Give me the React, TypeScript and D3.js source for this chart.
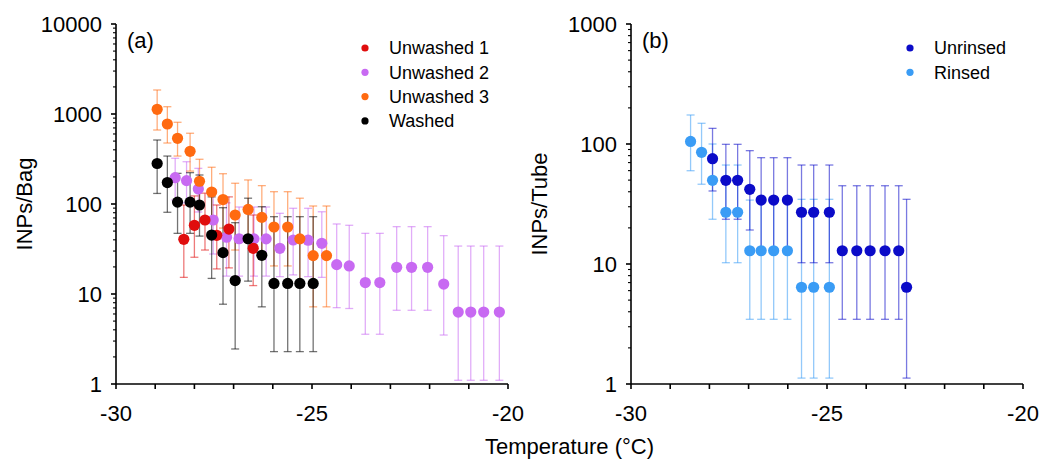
import React from "react";
import * as d3 from "d3";

// ---------- Panel (a) data ----------
const u1Temp = [-28.27, -28.0, -27.73, -27.43, -27.12, -26.5];
const u1Val = [40.5, 58, 66.4, 44.9, 52.7, 32.2];
const u1Hi = [97.5, 123, 132, 97.5, 120, 75.5];
const u1Lo = [15.3, 25.6, 30.8, 19, 19.5, 12.4];

const u2Temp = [-28.49, -28.2, -27.9, -27.52, -27.18, -26.86, -26.48, -26.17, -25.82, -25.48, -25.1, -24.75,
  -24.37, -24.05, -23.64, -23.27, -22.84, -22.46, -22.05, -21.64, -21.27, -20.95, -20.62, -20.22];
const u2Val = [196, 182, 147, 66.4, 42.7, 41.1, 41, 41, 32.2, 39.8, 39.6, 36.6,
  21.2, 20.5, 13.4, 13.4, 19.8, 19.8, 19.8, 12.9, 6.3, 6.3, 6.3, 6.3];
const u2Hi = [322, 295, 249, 143, 103, 92.6, 92.6, 92.6, 78.8, 89.6, 89.6, 82,
  60, 58, 47.2, 47.2, 56, 56, 56, 44.5, 34.1, 34.1, 34.1, 34.1];
const u2Lo = [111, 103, 81.5, 27.8, 15.8, 15.8, 15.8, 15.8, 15.6, 16.3, 15.6, 15.3,
  7.05, 6.9, 3.57, 3.57, 6.59, 6.59, 6.59, 3.5, 1.1, 1.1, 1.1, 1.1];

const u3Temp = [-28.95, -28.69, -28.43, -28.11, -27.87, -27.56, -27.27, -26.96, -26.63, -26.28, -25.97, -25.62, -25.31, -24.97, -24.63];
const u3Val = [1128, 774, 537, 385, 179, 136, 112, 75.5, 87, 71, 55.5, 55.5, 41, 26.7, 26.7];
const u3Hi = [1848, 1205, 809, 611, 314, 256, 217, 170, 185, 160, 137, 137, 116, 95, 95];
const u3Lo = [664, 476, 341, 232, 97.5, 68, 54, 30.8, 37.8, 27.8, 20.5, 20.5, 12.9, 7.2, 7.2];

const wTemp = [-28.95, -28.69, -28.43, -28.11, -27.87, -27.56, -27.27, -26.96, -26.63, -26.28, -25.97, -25.62, -25.31, -24.97];
const wVal = [282, 173, 105, 105, 97.5, 45.2, 28.8, 14.1, 41.1, 26.9, 13.1, 13.1, 13.1, 13.1];
const wHi = [514, 341, 219, 223, 210, 120, 91, 62, 116, 93.3, 72.3, 72.3, 72.3, 72.3];
const wLo = [131, 80.9, 47.2, 47.2, 44, 14.9, 7.7, 2.45, 13.9, 7.2, 2.29, 2.29, 2.29, 2.29];

// ---------- Panel (b) data ----------
const rTemp = [-28.48, -28.2, -27.92, -27.58, -27.28, -26.97, -26.68, -26.36, -26.01, -25.65, -25.34, -24.94];
const rVal = [105, 85.3, 49.8, 27, 27, 12.9, 12.9, 12.9, 12.9, 6.4, 6.4, 6.4];
const rHi = [174.5, 148.8, 100, 66.8, 66.8, 34.1, 34.1, 34.1, 34.1, 34.6, 34.6, 34.6];
const rLo = [59.9, 46.2, 23.6, 10.25, 10.25, 3.46, 3.46, 3.46, 3.46, 1.12, 1.12, 1.12];

const urTemp = [-27.92, -27.58, -27.28, -26.97, -26.68, -26.36, -26.01, -25.65, -25.34, -24.94, -24.61, -24.24, -23.9, -23.52, -23.17, -22.97];
const urVal = [75.4, 49.8, 49.8, 41.9, 34.1, 34.1, 34.1, 27, 27, 27, 12.9, 12.9, 12.9, 12.9, 12.9, 6.4];
const urHi = [135, 99.4, 99.4, 88, 76.9, 76.9, 76.9, 66.8, 66.8, 66.8, 44.9, 44.9, 44.9, 44.9, 44.9, 34.6];
const urLo = [40.6, 23.6, 23.6, 19.2, 13.6, 13.6, 13.6, 10.25, 10.25, 10.25, 3.46, 3.46, 3.46, 3.46, 3.46, 1.12];

const xTicksMajor = [-30, -25, -20];
const yTicksA = [1, 10, 100, 1000, 10000];
const yTicksB = [1, 10, 100, 1000];

const FONT = "'Liberation Sans', Arial, Helvetica, sans-serif";

type Series = { name: string; color: string; t: number[]; v: number[]; hi: number[]; lo: number[] };

const seriesA: Series[] = [
  { name: "Unwashed 2", color: "#c86af2", t: u2Temp, v: u2Val, hi: u2Hi, lo: u2Lo },
  { name: "Unwashed 1", color: "#e00d0d", t: u1Temp, v: u1Val, hi: u1Hi, lo: u1Lo },
  { name: "Unwashed 3", color: "#ff6a10", t: u3Temp, v: u3Val, hi: u3Hi, lo: u3Lo },
  { name: "Washed", color: "#000000", t: wTemp, v: wVal, hi: wHi, lo: wLo },
];
const legendA = ["Unwashed 1", "Unwashed 2", "Unwashed 3", "Washed"];

const seriesB: Series[] = [
  { name: "Rinsed", color: "#3a9cf5", t: rTemp, v: rVal, hi: rHi, lo: rLo },
  { name: "Unrinsed", color: "#0b0bc8", t: urTemp, v: urVal, hi: urHi, lo: urLo },
];
const legendB = ["Unrinsed", "Rinsed"];

function Panel(props: {
  x0: number; x1: number; yTop: number; yBot: number; yMax: number; yTicks: number[];
  series: Series[]; legend: string[]; legendX: number; legendY: number; label: string; yTitle: string;
}) {
  const { x0, x1, yTop, yBot, yMax, yTicks, series, legend, legendX, legendY, label, yTitle } = props;
  const x = d3.scaleLinear().domain([-30, -20]).range([x0, x1]);
  const y = d3.scaleLog().domain([1, yMax]).range([yBot, yTop]);
  const minor: number[] = [];
  for (let d = 1; d < yMax; d *= 10) for (let k = 2; k <= 9; k++) minor.push(d * k);
  const xt = d3.range(-30, -19, 1);
  const cap = 4;
  return (
    <g>
      {/* error bars */}
      {series.map((s) => (
        <g key={"e" + s.name} stroke={s.color} strokeOpacity={0.55} strokeWidth={1.3}>
          {s.t.map((t, i) => {
            const cx = x(t);
            const yh = y(s.hi[i]);
            const yl = y(s.lo[i]);
            return (
              <g key={i}>
                <line x1={cx} x2={cx} y1={yh} y2={yl} />
                <line x1={cx - cap} x2={cx + cap} y1={yh} y2={yh} />
                <line x1={cx - cap} x2={cx + cap} y1={yl} y2={yl} />
              </g>
            );
          })}
        </g>
      ))}
      {/* points */}
      {series.map((s) => (
        <g key={"p" + s.name} fill={s.color}>
          {s.t.map((t, i) => (
            <circle key={i} cx={x(t)} cy={y(s.v[i])} r={5.6} />
          ))}
        </g>
      ))}
      {/* axes */}
      <g stroke="#000" strokeWidth={1.6}>
        <line x1={x0} x2={x0} y1={yTop} y2={yBot} />
        <line x1={x0} x2={x1} y1={yBot} y2={yBot} />
        {xt.map((t) => (
          <line key={t} x1={x(t)} x2={x(t)} y1={yBot} y2={yBot + 5} />
        ))}
        {yTicks.map((t) => (
          <line key={t} x1={x0 - 5} x2={x0} y1={y(t)} y2={y(t)} />
        ))}
        {minor.map((t) => (
          <line key={t} x1={x0 - 3} x2={x0} y1={y(t)} y2={y(t)} strokeWidth={1.1} />
        ))}
      </g>
      <g fontFamily={FONT} fontSize={22} fill="#000">
        {xTicksMajor.map((t) => (
          <text key={t} x={x(t)} y={yBot + 37} textAnchor="middle">{t}</text>
        ))}
        {yTicks.map((t) => (
          <text key={t} x={x0 - 14} y={y(t)} dy="0.36em" textAnchor="end">{t}</text>
        ))}
        <text x={x0 + 11} y={48}>{label}</text>
        <text transform={`translate(${x0 - 84},${(yTop + yBot) / 2}) rotate(-90)`} textAnchor="middle">{yTitle}</text>
      </g>
      <g fontFamily={FONT} fontSize={18} fill="#000">
        {legend.map((name, i) => {
          const s = series.find((q) => q.name === name)!;
          const ly = legendY + i * 24.3;
          return (
            <g key={name}>
              <circle cx={legendX} cy={ly} r={3.6} fill={s.color} />
              <text x={legendX + 24} y={ly} dy="0.35em">{name}</text>
            </g>
          );
        })}
      </g>
    </g>
  );
}

export default function App() {
  return (
    <svg width={1042} height={460} style={{ position: "absolute", left: 0, top: 0, background: "#fff" }}>
      <rect width={1042} height={460} fill="#fff" />
      <Panel x0={116} x1={508} yTop={24} yBot={384} yMax={10000} yTicks={yTicksA} series={seriesA}
        legend={legendA} legendX={365} legendY={48} label="(a)" yTitle="INPs/Bag" />
      <Panel x0={631} x1={1023} yTop={24} yBot={384} yMax={1000} yTicks={yTicksB} series={seriesB}
        legend={legendB} legendX={910} legendY={48} label="(b)" yTitle="INPs/Tube" />
      <text x={569.5} y={454} textAnchor="middle" fontFamily={FONT} fontSize={22} fill="#000">Temperature (°C)</text>
    </svg>
  );
}
